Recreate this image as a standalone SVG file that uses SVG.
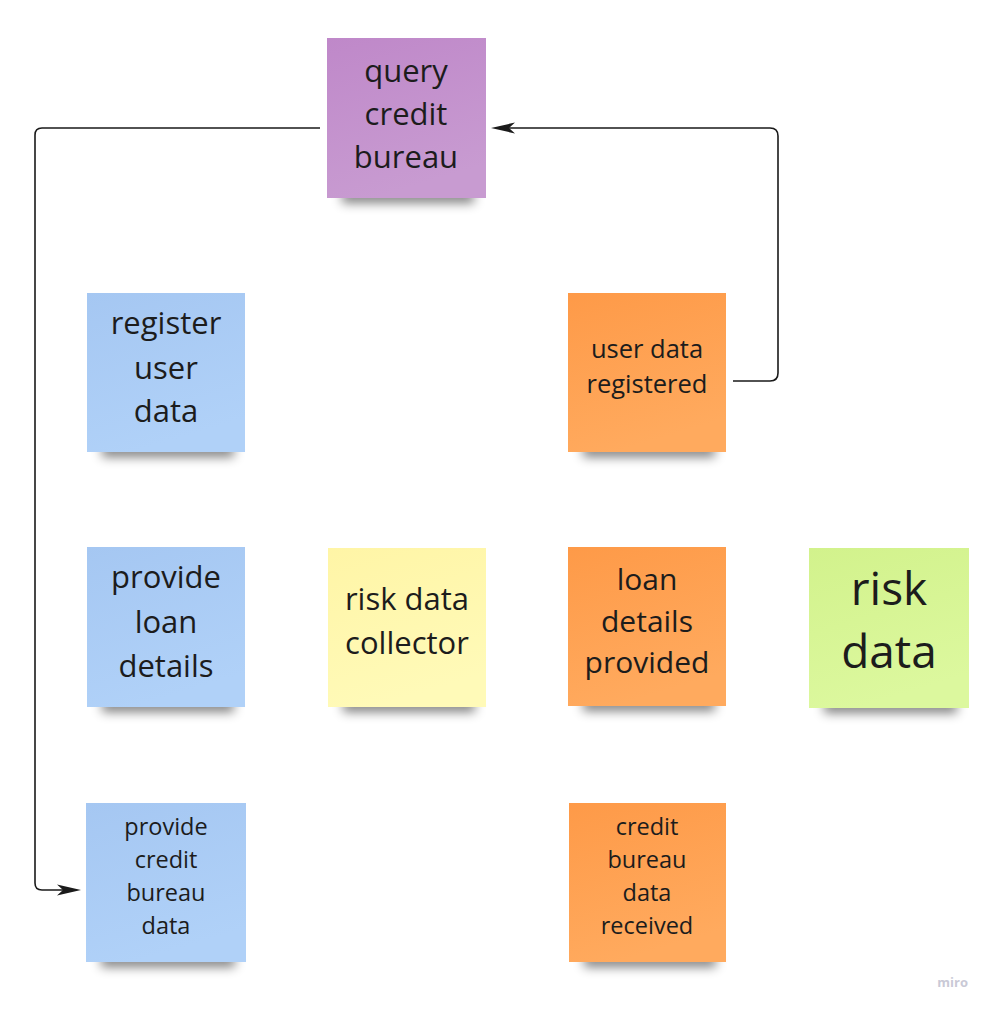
<svg xmlns="http://www.w3.org/2000/svg" width="990" height="1009" viewBox="0 0 990 1009">
<style>
.t{font-family:"Open Sans","Noto Sans","DejaVu Sans",sans-serif;fill:#1c1c1c;text-anchor:middle}
.edge{fill:none;stroke:#1a1a1a;stroke-width:1.6}
.head{fill:#1a1a1a}
.shadow{fill:#000;opacity:0.5;filter:url(#blur)}
</style>
<defs>
<filter id="blur" x="-20%" y="-150%" width="140%" height="400%"><feGaussianBlur stdDeviation="5.5"/></filter>
<linearGradient id="gPurple" x1="0" y1="0" x2="0.3" y2="1"><stop offset="0" stop-color="#bf88c9"/><stop offset="1" stop-color="#c89bd1"/></linearGradient>
<linearGradient id="gBlue" x1="0" y1="0" x2="0.3" y2="1"><stop offset="0" stop-color="#a5c7f2"/><stop offset="1" stop-color="#b0d1f8"/></linearGradient>
<linearGradient id="gOrange" x1="0" y1="0" x2="0.3" y2="1"><stop offset="0" stop-color="#fe9a48"/><stop offset="1" stop-color="#ffaa5e"/></linearGradient>
<linearGradient id="gYellow" x1="0" y1="0" x2="0.3" y2="1"><stop offset="0" stop-color="#fff5a6"/><stop offset="1" stop-color="#fffab8"/></linearGradient>
<linearGradient id="gGreen" x1="0" y1="0" x2="0.3" y2="1"><stop offset="0" stop-color="#d2f28c"/><stop offset="1" stop-color="#dcf89e"/></linearGradient>
</defs>
<rect width="990" height="1009" fill="#ffffff"/>

<g id="connectors">
<path class="edge" d="M320,128 L42,128 Q35,128 35,135 L35,883 Q35,890 42,890 L66,890"/>
<path class="head" d="M81,890 L57,884.5 L63,890 L57,895.5 Z"/>
<path class="edge" d="M733,381 L770,381 Q778,381 778,373 L778,136 Q778,128 770,128 L505,128"/>
<path class="head" d="M491,128 L515,122.5 L509,128 L515,133.5 Z"/>
</g>

<g id="query-credit-bureau">
<rect class="shadow" x="342" y="190" width="132" height="13"/>
<rect x="327" y="38" width="159" height="160" fill="url(#gPurple)"/>
<text class="t" font-size="31"><tspan x="406" y="82">query</tspan><tspan x="406" y="125">credit</tspan><tspan x="406" y="168">bureau</tspan></text>
</g>

<g id="register-user-data">
<rect class="shadow" x="102" y="444" width="132" height="13"/>
<rect x="87" y="293" width="158" height="159" fill="url(#gBlue)"/>
<text class="t" font-size="31"><tspan x="166" y="334">register</tspan><tspan x="166" y="379">user</tspan><tspan x="166" y="422">data</tspan></text>
</g>

<g id="user-data-registered">
<rect class="shadow" x="583" y="444" width="132" height="13"/>
<rect x="568" y="293" width="158" height="159" fill="url(#gOrange)"/>
<text class="t" font-size="25.5"><tspan x="647" y="358">user data</tspan><tspan x="647" y="393">registered</tspan></text>
</g>

<g id="provide-loan-details">
<rect class="shadow" x="102" y="699" width="132" height="13"/>
<rect x="87" y="547" width="158" height="160" fill="url(#gBlue)"/>
<text class="t" font-size="31"><tspan x="166" y="588">provide</tspan><tspan x="166" y="633">loan</tspan><tspan x="166" y="677">details</tspan></text>
</g>

<g id="risk-data-collector">
<rect class="shadow" x="343" y="699" width="132" height="13"/>
<rect x="328" y="548" width="158" height="159" fill="url(#gYellow)"/>
<text class="t" font-size="31"><tspan x="407" y="610">risk data</tspan><tspan x="407" y="654">collector</tspan></text>
</g>

<g id="loan-details-provided">
<rect class="shadow" x="583" y="698" width="132" height="13"/>
<rect x="568" y="547" width="158" height="159" fill="url(#gOrange)"/>
<text class="t" font-size="30"><tspan x="647" y="590">loan</tspan><tspan x="647" y="632">details</tspan><tspan x="647" y="673">provided</tspan></text>
</g>

<g id="risk-data">
<rect class="shadow" x="824" y="700" width="133" height="13"/>
<rect x="809" y="548" width="160" height="160" fill="url(#gGreen)"/>
<text class="t" font-size="46"><tspan x="889" y="605">risk</tspan><tspan x="889" y="668">data</tspan></text>
</g>

<g id="provide-credit-bureau-data">
<rect class="shadow" x="101" y="954" width="134" height="13"/>
<rect x="86" y="803" width="160" height="159" fill="url(#gBlue)"/>
<text class="t" font-size="23.5"><tspan x="166" y="835">provide</tspan><tspan x="166" y="868">credit</tspan><tspan x="166" y="901">bureau</tspan><tspan x="166" y="934">data</tspan></text>
</g>

<g id="credit-bureau-data-received">
<rect class="shadow" x="584" y="954" width="132" height="13"/>
<rect x="569" y="803" width="157" height="159" fill="url(#gOrange)"/>
<text class="t" font-size="23.5"><tspan x="647" y="835">credit</tspan><tspan x="647" y="868">bureau</tspan><tspan x="647" y="901">data</tspan><tspan x="647" y="934">received</tspan></text>
</g>

<text x="968" y="987" font-family="'Open Sans','Noto Sans',sans-serif" font-size="13" font-weight="bold" fill="#c9c9d6" text-anchor="end">miro</text>
</svg>
